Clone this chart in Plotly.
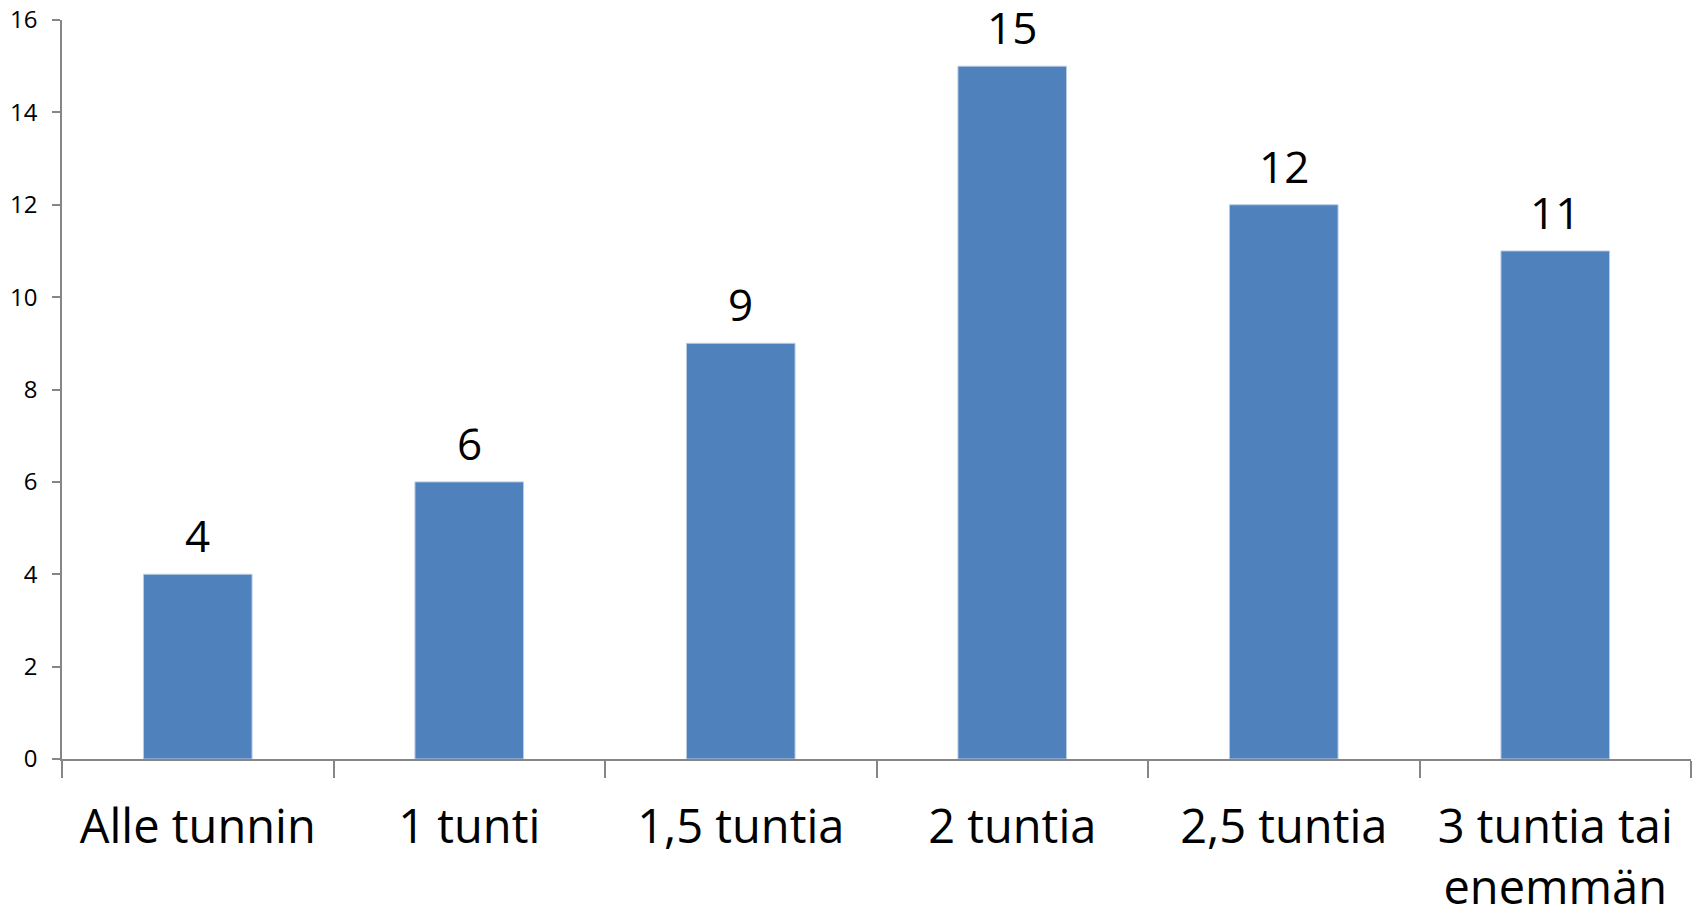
import plotly.graph_objects as go

categories = ["Alle tunnin", "1 tunti", "1,5 tuntia", "2 tuntia", "2,5 tuntia", "3 tuntia tai<br>enemmän"]
values = [4, 6, 9, 15, 12, 11]
y_ticks = [0, 2, 4, 6, 8, 10, 12, 14, 16]

FONT = "Open Sans"

fig = go.Figure(go.Bar(
    x=categories, y=values,
    marker=dict(color="#4F81BD", line=dict(color="#B9CDE5", width=1)),
    cliponaxis=False,
))
for c, v in zip(categories, values):
    fig.add_annotation(x=c, y=v, text=str(v), showarrow=False, yanchor="bottom",
                       yshift=7, font=dict(family=FONT, size=44, color="black"))

fig.update_layout(
    width=1692, height=906,
    margin=dict(l=54, r=9, t=12, b=155),
    paper_bgcolor="white", plot_bgcolor="white",
    bargap=0.6, showlegend=False,
)
fig.update_yaxes(
    range=[0, 16], tickvals=y_ticks, showgrid=False, zeroline=False, automargin=False,
    showline=True, linecolor="#868686", linewidth=1.5,
    ticks="outside", ticklen=8, tickcolor="#868686", tickwidth=1.5,
    tickfont=dict(family=FONT, size=24, color="black"), ticklabelstandoff=10,
    ticklabeloverflow="allow",
)
fig.update_xaxes(
    showgrid=False, showline=True, linecolor="#868686", linewidth=1.5, automargin=False,
    ticks="outside", ticklen=17, tickcolor="#868686", tickwidth=1.5,
    tickson="boundaries", ticklabeloverflow="allow",
    tickfont=dict(family=FONT, size=47, color="black"), ticklabelstandoff=26,
)
fig.write_html("out.html")
